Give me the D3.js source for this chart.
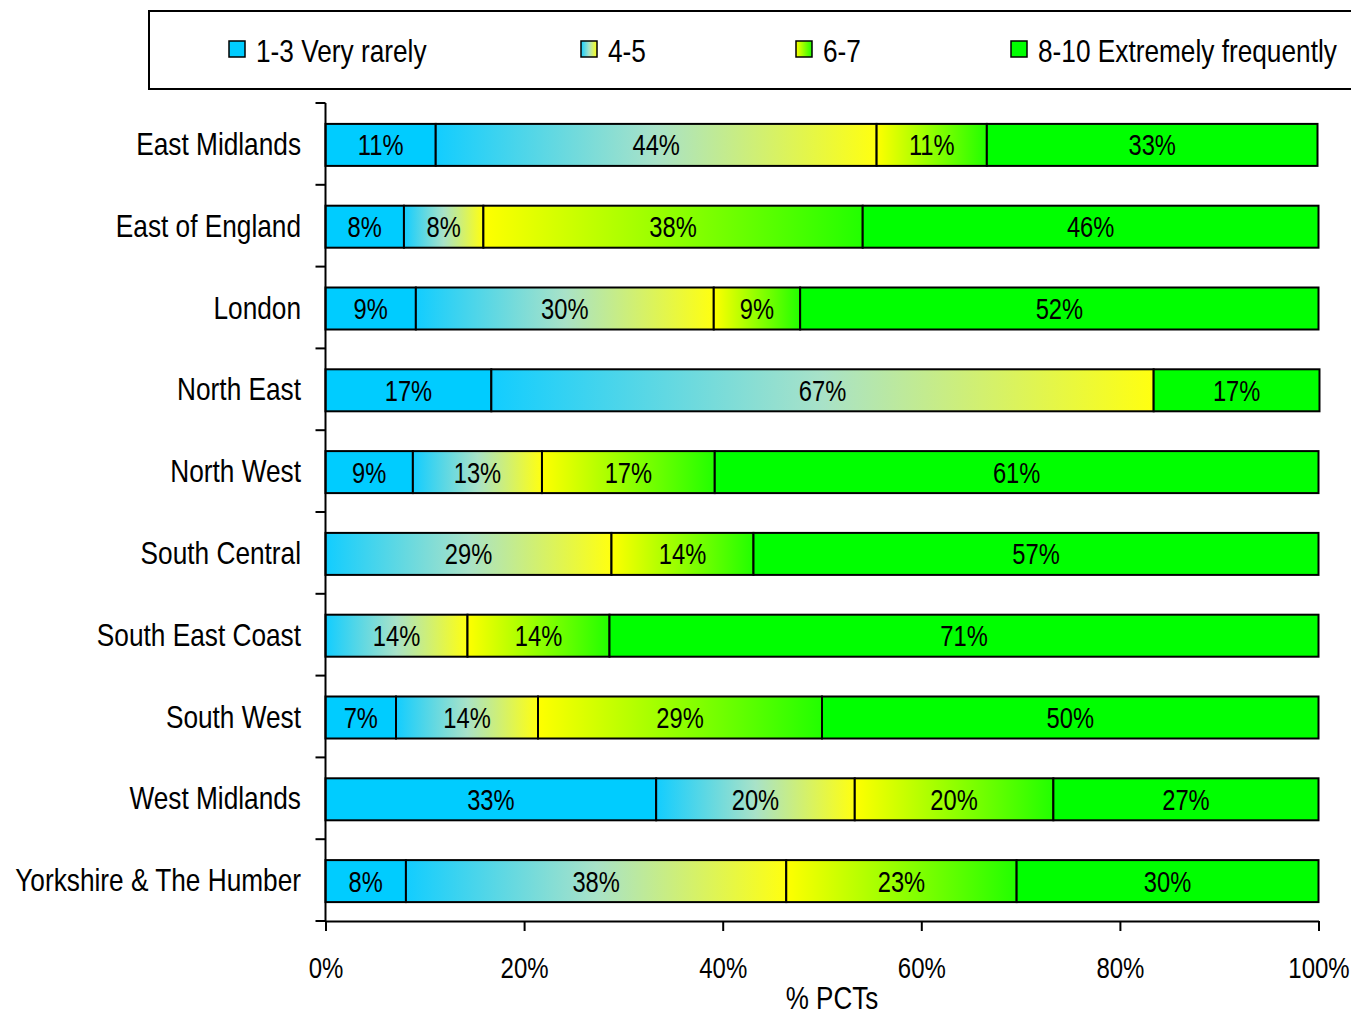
<!DOCTYPE html>
<html lang="en">
<head>
<meta charset="utf-8">
<title>Frequency by region</title>
<script src="https://cdn.jsdelivr.net/npm/d3@7"></script>
<style>
  body { margin: 0; background: #fff; }
  svg text { font-family: "Liberation Sans", Arial, sans-serif; fill: #000; }
</style>
</head>
<body>
<script>
// categories (top to bottom)
var regions = ["East Midlands", "East of England", "London", "North East", "North West",
               "South Central", "South East Coast", "South West", "West Midlands", "Yorkshire & The Humber"];

// series values, % of PCTs per region
var rarely   = [11.1, 7.9, 9.1, 16.7, 8.8, 0, 0, 7.1, 33.3, 8.1];          // 1-3 Very rarely
var mid45    = [44.4, 8.0, 30.0, 66.7, 13.0, 28.8, 14.3, 14.3, 20.0, 38.3]; // 4-5
var mid67    = [11.1, 38.2, 8.7, 0, 17.4, 14.3, 14.3, 28.6, 20.0, 23.2];    // 6-7
var frequent = [33.3, 45.9, 52.2, 16.7, 60.8, 56.9, 71.4, 50.0, 26.7, 30.4]; // 8-10

var seriesNames = ["1-3 Very rarely", "4-5", "6-7", "8-10 Extremely frequently"];
var xTicks = [0, 20, 40, 60, 80, 100];

var w = 1351, h = 1016;
var plotLeft = 325.5, plotRight = 1318.5, plotTop = 103, plotBottom = 921;

var svg = d3.select("body").append("svg")
    .attr("width", w)
    .attr("height", h);

// narrow text: Liberation Sans squeezed horizontally
function narrowText(parent, x, y, str, size, sx, anchor) {
  var g = parent.append("g").attr("transform", "translate(" + x + "," + y + ")");
  g.append("text")
    .attr("transform", "scale(" + sx + ",1)")
    .attr("text-anchor", anchor || "start")
    .style("font-size", size + "px")
    .text(str);
  return g;
}

// gradients: solid cyan, cyan->yellow, yellow->green, solid green
var defs = svg.append("defs");
var fills = [
  [["0%", "#00ccff"], ["100%", "#00ccff"]],
  [["0%", "#12cdff"], ["50%", "#a8e2c8"], ["100%", "#ffff10"]],
  [["0%", "#ffff00"], ["100%", "#22ff00"]],
  [["0%", "#00ff00"], ["100%", "#00ff00"]]
];
fills.forEach(function(stops, i) {
  var g = defs.append("linearGradient")
      .attr("id", "grad" + i)
      .attr("x1", "0%").attr("x2", "100%")
      .attr("y1", "0%").attr("y2", "0%");
  stops.forEach(function(s) {
    g.append("stop").attr("offset", s[0]).attr("stop-color", s[1]);
  });
});

// build table for stacking
var table = regions.map(function(r, i) {
  return { region: r, s0: rarely[i], s1: mid45[i], s2: mid67[i], s3: frequent[i] };
});
var stack = d3.stack().keys(["s0", "s1", "s2", "s3"])(table);

var x = d3.scaleLinear().domain([0, 100]).range([plotLeft, plotRight]);
var y = d3.scaleBand().domain(regions).range([plotTop, plotBottom]);
var barH = 42;
function mid(r) { return y(r) + y.bandwidth() / 2 + 1; }

// bars
var layers = svg.selectAll("g.layer")
    .data(stack)
  .enter().append("g")
    .attr("class", "layer");

layers.selectAll("rect")
    .data(function(d, i) {
      return d.filter(function(p) { return p[1] - p[0] > 0; })
              .map(function(p) { return { p: p, k: i }; });
    })
  .enter().append("rect")
    .attr("x", function(d) { return x(d.p[0]); })
    .attr("y", function(d) { return mid(d.p.data.region) - barH / 2; })
    .attr("width", function(d) { return x(d.p[1]) - x(d.p[0]); })
    .attr("height", barH)
    .attr("fill", function(d) { return "url(#grad" + d.k + ")"; })
    .attr("stroke", "#000")
    .attr("stroke-width", 2);

// value labels
stack.forEach(function(layer) {
  layer.forEach(function(p) {
    if (p[1] - p[0] <= 0) return;
    narrowText(svg, (x(p[0]) + x(p[1])) / 2, mid(p.data.region) + 10.5,
               Math.round(p[1] - p[0]) + "%", 30, 0.79, "middle");
  });
});

// y axis: line + ticks at category boundaries
var bounds = regions.map(function(r) { return y(r); }).concat([plotBottom]);
svg.append("line")
    .attr("x1", plotLeft).attr("x2", plotLeft)
    .attr("y1", plotTop).attr("y2", plotBottom)
    .attr("stroke", "#000").attr("stroke-width", 2);
svg.selectAll("line.ytick")
    .data(bounds)
  .enter().append("line")
    .attr("class", "ytick")
    .attr("x1", plotLeft - 10).attr("x2", plotLeft)
    .attr("y1", function(d) { return d; }).attr("y2", function(d) { return d; })
    .attr("stroke", "#000").attr("stroke-width", 2);

regions.forEach(function(r) {
  narrowText(svg, 301, mid(r) + 10, r, 32, 0.82, "end");
});

// x axis
var xAxis = d3.axisBottom(x)
    .tickValues(xTicks)
    .tickSize(10)
    .tickSizeOuter(0)
    .tickFormat(function(d) { return d + "%"; });

var gx = svg.append("g")
    .attr("transform", "translate(0," + plotBottom + ")")
    .call(xAxis)
    .attr("font-family", null)
    .attr("font-size", null);
gx.select(".domain").attr("stroke", "#000").attr("stroke-width", 2);
gx.selectAll(".tick line").attr("stroke", "#000").attr("stroke-width", 2);
gx.selectAll(".tick text")
    .attr("y", 57)
    .attr("dy", null)
    .attr("fill", "#000")
    .attr("transform", "scale(0.8,1)")
    .style("font-size", "30px");

narrowText(svg, 832, 1009, "% PCTs", 31, 0.84, "middle");

// legend
svg.append("rect")
    .attr("x", 149).attr("y", 11)
    .attr("width", 1300).attr("height", 78)
    .attr("fill", "none")
    .attr("stroke", "#000").attr("stroke-width", 2);

var legendX = [229, 581, 796, 1011];
seriesNames.forEach(function(name, i) {
  svg.append("rect")
      .attr("x", legendX[i]).attr("y", 41)
      .attr("width", 16).attr("height", 16)
      .attr("fill", "url(#grad" + i + ")")
      .attr("stroke", "#000").attr("stroke-width", 1.5);
  narrowText(svg, legendX[i] + 27, 62, name, 32, 0.82, "start");
});
</script>
</body>
</html>
